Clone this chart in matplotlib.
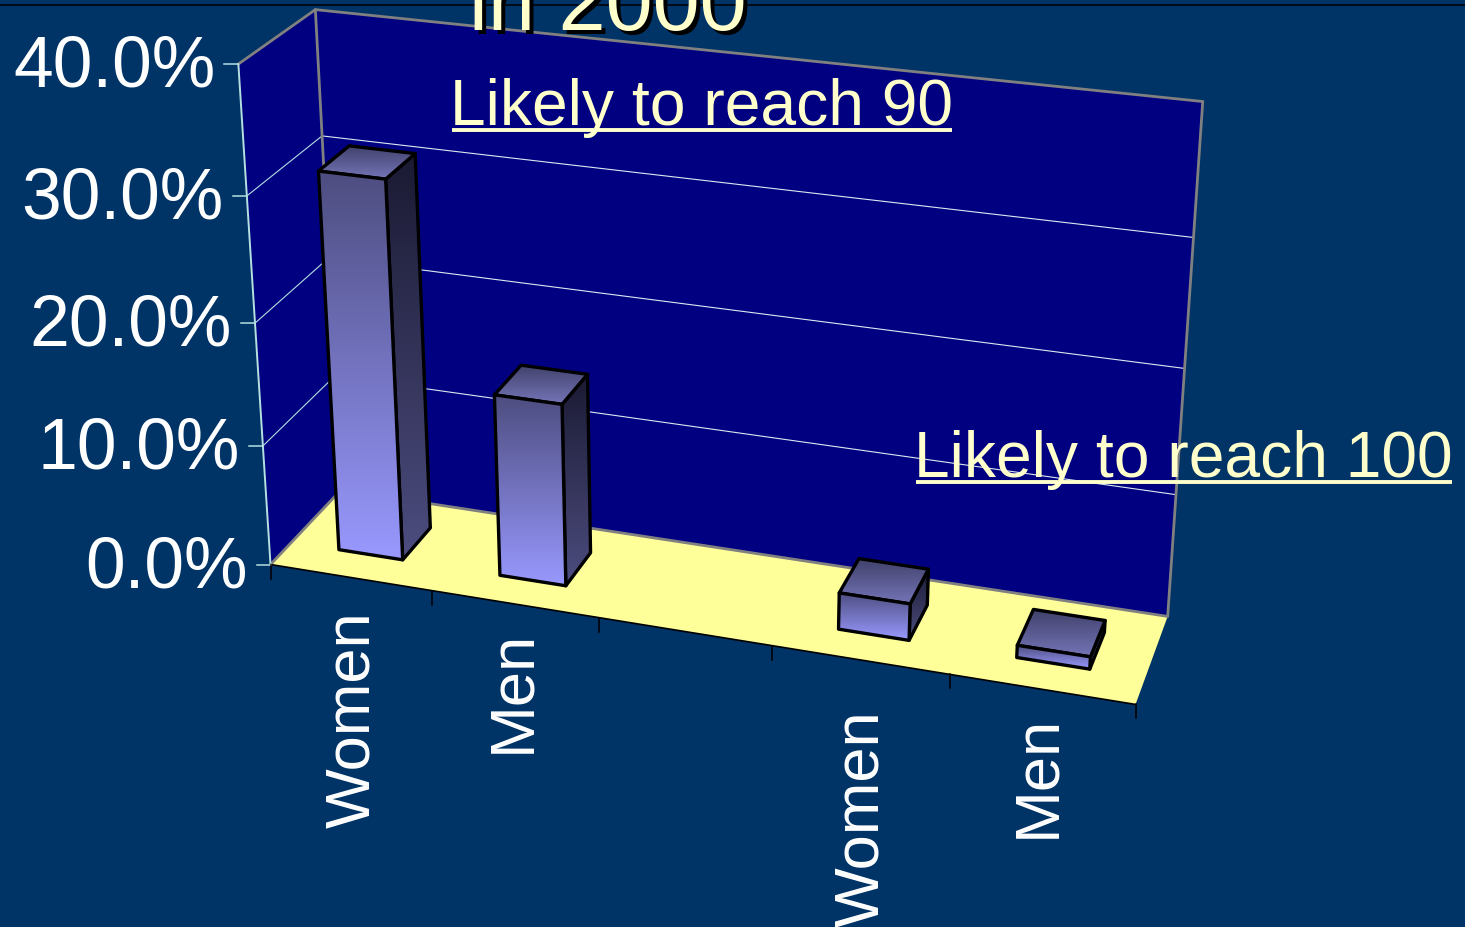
import numpy as np
import matplotlib
matplotlib.use("Agg")
import matplotlib.pyplot as plt
from matplotlib.colors import LinearSegmentedColormap
from matplotlib.patches import Polygon

# ---- data ----
categories = ["Women", "Men", "", "Women", "Men"]
values = [31.0, 15.0, np.nan, 3.0, 1.0]
value_ticks = [0, 10, 20, 30, 40]
value_labels = ["0.0%", "10.0%", "20.0%", "30.0%", "40.0%"]
group_labels = ["Likely to reach 90", "Likely to reach 100"]
title_text = "in 2000"

# ---- camera: (slot, depth, value) -> picture position, fitted on the chart box ----
calib_world = [(0,0,0),(5,0,0),(5,1,0),(0,1,0),(0,0,40),(0,1,40),(5,1,40),
               (0,0,30),(0,0,20),(0,0,10),(0,1,30),(5,1,30),(5,1,20),(5,1,10)]
calib_image = [(273,566.5),(1135,706.5),(1168,616.5),(339,491.5),(238,65.5),(316,10.5),(1203,102.5),
               (246,196.5),(254,323.5),(263,445.5),(323,137.5),(1193,238.5),(1185,370.5),(1176,494.5)]
rows = []
for (X, Y, Z), (u, v) in zip(calib_world, calib_image):
    rows.append([X, Y, Z, 1, 0, 0, 0, 0, -u*X, -u*Y, -u*Z, -u])
    rows.append([0, 0, 0, 0, X, Y, Z, 1, -v*X, -v*Y, -v*Z, -v])
CAM = np.linalg.svd(np.array(rows, float))[2][-1].reshape(3, 4)


def proj(x, d, z):
    p = CAM @ np.array([x, d, z, 1.0])
    return p[0] / p[2], p[1] / p[2]


BG, WALL, FLOOR = "#003366", "#000080", "#FFFF99"
TXT, LINE = "#FFFFCC", "#B4E0E0"
plt.rcParams["font.family"] = ["Liberation Sans", "DejaVu Sans"]

fig = plt.figure(figsize=(14.65, 9.28), dpi=100, facecolor=BG)
ax = fig.add_axes([0, 0, 1, 1])
ax.set_xlim(0, 1465)
ax.set_ylim(928, 0)
ax.axis("off")

n = len(categories)
top = max(value_ticks)


def poly(pts, **kw):
    ax.add_patch(Polygon(pts, closed=True, **kw))


poly([proj(0,0,0), proj(0,1,0), proj(0,1,top), proj(0,0,top)], fc=WALL, ec="none", zorder=1)
poly([proj(0,1,0), proj(n,1,0), proj(n,1,top), proj(0,1,top)], fc=WALL, ec="none", zorder=1)
poly([proj(0,0,0), proj(n,0,0), proj(n,1,0), proj(0,1,0)], fc=FLOOR, ec="none", zorder=1.5)


def seg(a, b, **kw):
    ax.plot([a[0], b[0]], [a[1], b[1]], solid_capstyle="round", **kw)


# gridlines
for v in value_ticks[1:-1]:
    seg(proj(0,0,v), proj(0,1,v), color=LINE, lw=0.8, zorder=2)
    seg(proj(0,1,v), proj(n,1,v), color="#DDE8F0", lw=0.8, zorder=2)

# wall outlines
GRAY = "#808080"
for a, b in [(proj(0,0,top), proj(0,1,top)), (proj(0,1,top), proj(n,1,top)),
             (proj(0,1,top), proj(0,1,0)), (proj(n,1,top), proj(n,1,0)),
             (proj(0,1,0), proj(n,1,0)), (proj(0,0,0), proj(0,1,0))]:
    seg(a, b, color=GRAY, lw=2.0, zorder=2)

# axes
seg(proj(0,0,0), proj(0,0,top), color=LINE, lw=1.4, zorder=3)
seg(proj(0,0,0), proj(n,0,0), color="black", lw=1.2, zorder=3)
for v, lab in zip(value_ticks, value_labels):
    x, y = proj(0, 0, v)
    ax.plot([x - 14, x], [y, y], color=LINE, lw=1.1, zorder=3)
    ax.text(x - 23, y + 3, lab, color="white", fontsize=51.5, ha="right", va="center", zorder=5)
for i in range(n + 1):
    x, y = proj(i, 0, 0)
    ax.plot([x, x], [y, y + 14], color="black", lw=1.1, zorder=3)

cm_front = LinearSegmentedColormap.from_list("f", ["#4D4D80", "#9999FF"])
cm_side = LinearSegmentedColormap.from_list("s", ["#1A1A33", "#4D4D80"])
cm_top = LinearSegmentedColormap.from_list("t", ["#40406A", "#7575B8"])


def gradient_face(pts, cmap, z):
    pts = np.array(pts)
    grad = np.linspace(0, 1, 256).reshape(-1, 1)
    x0, x1, y0, y1 = pts[:, 0].min(), pts[:, 0].max(), pts[:, 1].min(), pts[:, 1].max()
    im = ax.imshow(grad, cmap=cmap, extent=(x0, x1, y1, y0), aspect="auto", zorder=z,
                   vmin=0, vmax=1, interpolation="bilinear")
    patch = Polygon(pts, closed=True, transform=ax.transData, fc="none", ec="none")
    ax.add_patch(patch)
    im.set_clip_path(patch)
    poly(pts, fc="none", ec="black", lw=2.4, joinstyle="round", zorder=z + 0.1)


BAR_L, BAR_R, BAR_F, BAR_B = 0.30, 0.70, 0.29, 0.71
for i, val in enumerate(values):
    if np.isnan(val):
        continue
    l, r = i + BAR_L, i + BAR_R
    z = 6 + i * 0.5
    gradient_face([proj(r,BAR_F,0), proj(r,BAR_B,0), proj(r,BAR_B,val), proj(r,BAR_F,val)], cm_side, z)
    gradient_face([proj(l,BAR_F,val), proj(r,BAR_F,val), proj(r,BAR_B,val), proj(l,BAR_B,val)], cm_top, z + 0.2)
    gradient_face([proj(l,BAR_F,0), proj(r,BAR_F,0), proj(r,BAR_F,val), proj(l,BAR_F,val)], cm_front, z + 0.3)

ax.set_xlim(0, 1465)
ax.set_ylim(928, 0)

# category labels
label_pos = [(353, 828), (513, 753), None, (861.5, 927), (1038, 838)]
for cat, pos in zip(categories, label_pos):
    if pos is None:
        continue
    ax.text(pos[0], pos[1], cat, color="white", fontsize=45.5, rotation=90,
            ha="center", va="bottom", rotation_mode="default", zorder=5)

# group labels
for lab, (x, y, x1) in zip(group_labels, [(450, 125, 952), (914, 477, 1452)]):
    ax.text(x, y, lab, color=TXT, fontsize=46.2, ha="left", va="baseline", zorder=20)
    ax.plot([x + 2, x1], [y + 6, y + 6], color=TXT, lw=2.8, solid_capstyle="butt", zorder=20)

# top rule and title
ax.plot([0, 1465], [6, 6], color="black", lw=1.1, zorder=1)
ax.text(473, 34, title_text, color="black", fontsize=61, ha="left", va="baseline", zorder=20)
ax.text(469, 30, title_text, color=TXT, fontsize=61, ha="left", va="baseline", zorder=21)

fig.savefig("out.png", dpi=100, facecolor=BG)
